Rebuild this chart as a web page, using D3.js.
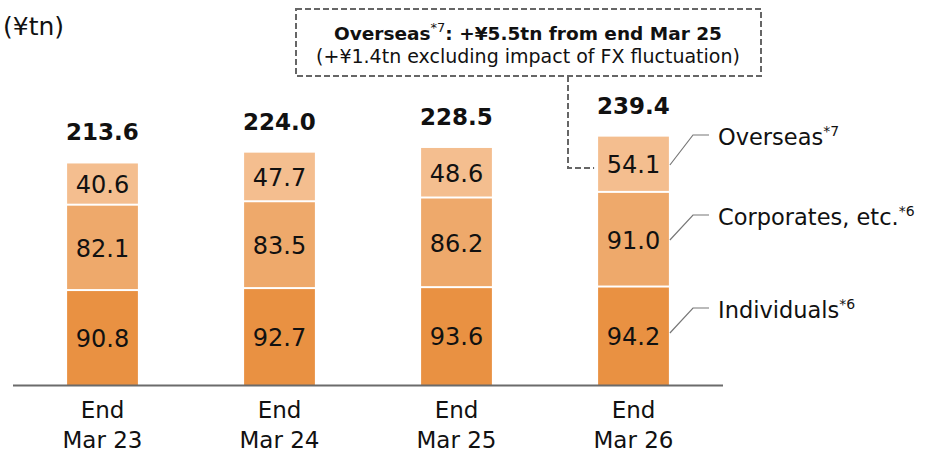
<!DOCTYPE html>
<html><head><meta charset="utf-8">
<script src="https://cdn.jsdelivr.net/npm/d3@7"></script>
<style>body{margin:0;background:#fff;}svg{display:block;font-family:"DejaVu Sans",Verdana,sans-serif;}</style>
</head><body>
<svg id="c" width="939" height="453"></svg>
<script>
const categories = ["End\nMar 23", "End\nMar 24", "End\nMar 25", "End\nMar 26"];
const individuals = [90.8, 92.7, 93.6, 94.2];
const corporates = [82.1, 83.5, 86.2, 91.0];
const overseas = [40.6, 47.7, 48.6, 54.1];
const totals = [213.6, 224.0, 228.5, 239.4];
const seriesNames = ["Individuals", "Corporates, etc.", "Overseas"];
const seriesNotes = ["*6", "*6", "*7"];
const colors = ["#E99142", "#EEA96B", "#F4BE8F"];

const svg = d3.select("#c");
const x = d3.scaleBand().domain(categories).range([14, 722]).paddingInner(0.6).paddingOuter(0.3);
const y = d3.scaleLinear().domain([0, 250]).range([385.5, 125.5]);

const rows = categories.map((c, i) => ({cat: c, Individuals: individuals[i], "Corporates, etc.": corporates[i], Overseas: overseas[i]}));
const stack = d3.stack().keys(seriesNames)(rows);

const g = svg.append("g");
stack.forEach((layer, li) => {
  layer.forEach((d, i) => {
    const x0 = x(categories[i]), w = x.bandwidth();
    const top = y(d[1]), bot = y(d[0]);
    g.append("rect").attr("x", x0).attr("y", top)
      .attr("width", w).attr("height", bot - top - (li > 0 ? 2 : 0))
      .attr("fill", colors[li]);
    g.append("text").attr("x", x0 + w / 2).attr("y", (top + bot) / 2 + 8.5)
      .attr("text-anchor", "middle").attr("font-size", 24).attr("fill", "#111")
      .text((d[1] - d[0]).toFixed(1));
  });
});
// totals
totals.forEach((t, i) => {
  g.append("text").attr("x", x(categories[i]) + x.bandwidth() / 2).attr("y", y(t) - 23)
    .attr("text-anchor", "middle").attr("font-size", 23).attr("font-weight", "bold").attr("fill", "#111")
    .text(t.toFixed(1));
});
// axis line
svg.append("line").attr("x1", 13).attr("x2", 723).attr("y1", 385.5).attr("y2", 385.5)
  .attr("stroke", "#6b6b6b").attr("stroke-width", 2);
// category labels
categories.forEach(c => {
  const t = svg.append("text").attr("text-anchor", "middle").attr("font-size", 23).attr("fill", "#111");
  c.split("\n").forEach((ln, k) => {
    t.append("tspan").attr("x", x(c) + x.bandwidth() / 2).attr("y", 418 + k * 29.5).text(ln);
  });
});
// unit
svg.append("text").attr("x", 3).attr("y", 35).attr("font-size", 25).attr("fill", "#111").text("(¥tn)");

// legend labels with leader lines
const last = categories.length - 1;
const lx = x(categories[last]) + x.bandwidth() + 1;
const legY = [308, 215, 135];
stack.forEach((layer, li) => {
  const cy = li === 0 ? 333 : li === 1 ? 240 : 165;
  svg.append("polyline").attr("points", `${lx},${cy} ${693},${legY[li]} ${709},${legY[li]}`)
    .attr("fill", "none").attr("stroke", "#777").attr("stroke-width", 1.2);
  const t = svg.append("text").attr("x", 718).attr("y", legY[li] + 10).attr("font-size", 22.5).attr("fill", "#111");
  t.append("tspan").text(seriesNames[li]);
  t.append("tspan").attr("font-size", 14).attr("dy", -9).text(seriesNotes[li]);
});

// annotation box
svg.append("rect").attr("x", 296).attr("y", 9).attr("width", 465).attr("height", 67)
  .attr("fill", "none").attr("stroke", "#666").attr("stroke-width", 2).attr("stroke-dasharray", "6,3");
const a1 = svg.append("text").attr("x", 528).attr("y", 40).attr("text-anchor", "middle")
  .attr("font-size", 18.5).attr("font-weight", "bold").attr("fill", "#111");
a1.append("tspan").text("Overseas");
a1.append("tspan").attr("font-size", 13).attr("font-weight", "normal").attr("dy", -8).text("*7");
a1.append("tspan").attr("dy", 8).text(": +¥5.5tn from end Mar 25");
svg.append("text").attr("x", 528).attr("y", 63).attr("text-anchor", "middle")
  .attr("font-size", 19).attr("fill", "#111").text("(+¥1.4tn excluding impact of FX fluctuation)");
svg.append("polyline").attr("points", `568,76 568,168 ${x(categories[last]) - 4},168`)
  .attr("fill", "none").attr("stroke", "#666").attr("stroke-width", 2).attr("stroke-dasharray", "6,3");
</script>
</body></html>
